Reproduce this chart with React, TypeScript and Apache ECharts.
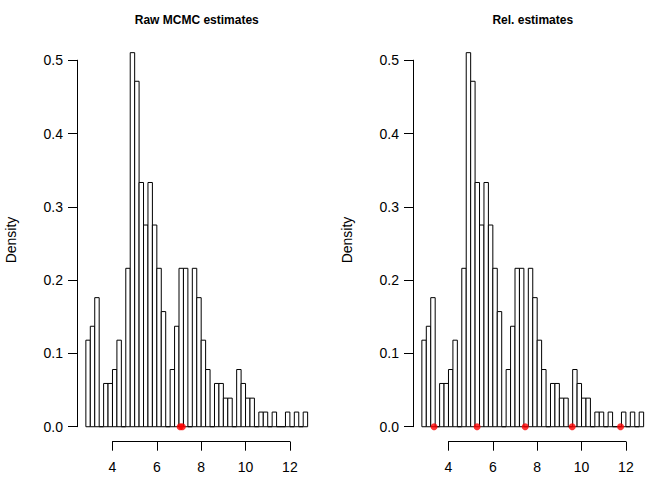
import React, { useEffect, useRef } from "react";
import * as echarts from "echarts";

const breaks = [2.8,3.0,3.2,3.4,3.6,3.8,4.0,4.2,4.4,4.6,4.8,5.0,5.2,5.4,5.6,5.8,6.0,6.2,6.4,6.6,6.8,7.0,7.2,7.4,7.6,7.8,8.0,8.2,8.4,8.6,8.8,9.0,9.2,9.4,9.6,9.8,10.0,10.2,10.4,10.6,10.8,11.0,11.2,11.4,11.6,11.8,12.0,12.2,12.4,12.6,12.8];
const density = [0.118,0.137,0.176,0,0.059,0.059,0.078,0.118,0,0.216,0.510,0.471,0.333,0.275,0.333,0.275,0.216,0.157,0,0.078,0.137,0.216,0.216,0,0.216,0.176,0.118,0.078,0,0.059,0.059,0.039,0.039,0,0.078,0.059,0.039,0.039,0,0.020,0.020,0,0.020,0,0,0.020,0,0.020,0,0.020];
const rawPoints = [7.05, 7.15];
const relPoints = [3.35, 5.29, 7.46, 9.58, 11.76];
const titles = ["Raw MCMC estimates", "Rel. estimates"];
const xTicks = [4, 6, 8, 10, 12];

const FONT = "Liberation Sans, Arial, sans-serif";

export default function App() {
  const ref = useRef<HTMLDivElement>(null);
  useEffect(() => {
    const chart = echarts.init(ref.current!, null, { renderer: "svg" });
    const bins = density.map((d, i) => [breaks[i], breaks[i + 1], d]);
    const panels = [
      { left: 77, pts: rawPoints },
      { left: 413, pts: relPoints },
    ];
    const W = 239.5;
    const grids: any[] = [];
    const xAxes: any[] = [];
    const yAxes: any[] = [];
    const series: any[] = [];
    const graphics: any[] = [];
    const axisLbl = { color: "#000", fontFamily: FONT, fontSize: 14 };
    panels.forEach((p, k) => {
      const g = grids.length;
      // data grid
      grids.push({ left: p.left, width: W, top: 37.7, bottom: 38.3 });
      xAxes.push({ gridIndex: g, type: "value", min: 2.4, max: 13.2, show: false });
      yAxes.push({ gridIndex: g, type: "value", min: -0.0204, max: 0.5304, show: false });
      // x axis grid
      const xl = p.left + (4 - 2.4) * (W / 10.8);
      const xw = 8 * (W / 10.8);
      grids.push({ left: xl, width: xw, top: 37.7, bottom: 38.3 });
      xAxes.push({
        gridIndex: g + 1, type: "value", min: 4, max: 12, interval: 2,
        axisLine: { lineStyle: { color: "#000", width: 1 } },
        axisTick: { length: 9, lineStyle: { color: "#000" } },
        axisLabel: { ...axisLbl, margin: 18 },
        splitLine: { show: false },
      });
      yAxes.push({ gridIndex: g + 1, type: "value", show: false });
      // y axis grid
      grids.push({ left: p.left, width: W, top: 60.2, bottom: 480 - 426.7 });
      xAxes.push({ gridIndex: g + 2, type: "value", show: false });
      yAxes.push({
        gridIndex: g + 2, type: "value", min: 0, max: 0.5, interval: 0.1,
        axisLine: { show: true, lineStyle: { color: "#000", width: 1 } },
        axisTick: { show: true, length: 9, lineStyle: { color: "#000" } },
        axisLabel: { ...axisLbl, margin: 14, formatter: (v: number) => v.toFixed(1) },
        splitLine: { show: false },
      });
      series.push({
        type: "custom", xAxisIndex: g, yAxisIndex: g, data: bins,
        renderItem: (params: any, api: any) => {
          const a = api.coord([api.value(0), 0]);
          const b = api.coord([api.value(1), api.value(2)]);
          return {
            type: "rect",
            shape: { x: a[0], y: b[1], width: b[0] - a[0], height: a[1] - b[1] },
            style: { fill: "#fff", stroke: "#000", lineWidth: 1 },
          };
        },
      });
      series.push({
        type: "scatter", xAxisIndex: g, yAxisIndex: g,
        data: p.pts.map((x) => [x, 0]), symbolSize: 7,
        itemStyle: { color: "#ff0000" },
      });
      graphics.push({
        type: "text", x: p.left + W / 2, y: 20,
        style: { text: titles[k], font: `bold 12px ${FONT}`, fill: "#000", align: "center", verticalAlign: "middle" },
      });
      graphics.push({
        type: "text", x: p.left - 66, y: 240, rotation: Math.PI / 2,
        style: { text: "Density", font: `14px ${FONT}`, fill: "#000", align: "center", verticalAlign: "middle" },
      });
    });
    chart.setOption({
      animation: false,
      backgroundColor: "#fff",
      grid: grids, xAxis: xAxes, yAxis: yAxes, series, graphic: graphics,
    });
    return () => chart.dispose();
  }, []);
  return <div ref={ref} style={{ width: 672, height: 480, position: "absolute", left: 0, top: 0 }} />;
}
